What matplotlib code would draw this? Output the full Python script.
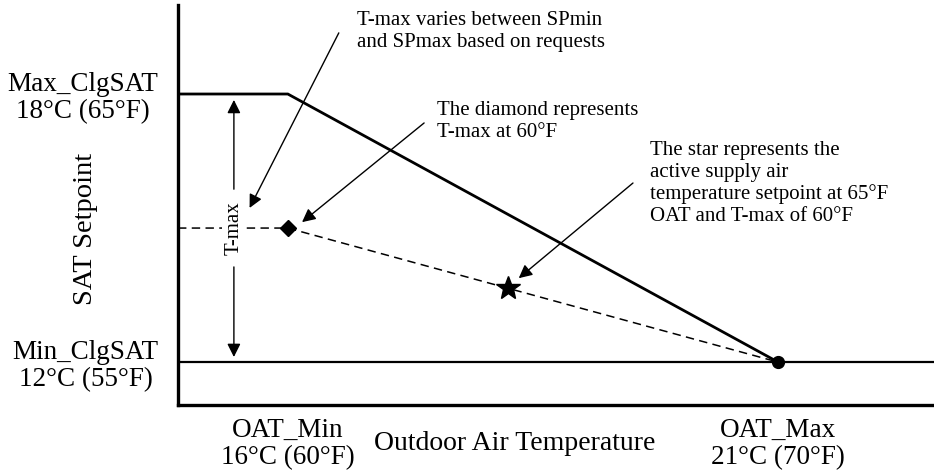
import matplotlib
matplotlib.use("Agg")
import matplotlib.pyplot as plt

plt.rcParams['font.family'] = ['Liberation Serif', 'DejaVu Serif']

# ---- data (°F) ----
oat_ticks = [60, 70]
oat_tick_labels = ["OAT_Min\n16°C (60°F)", "OAT_Max\n21°C (70°F)"]
sat_ticks = [55, 65]
sat_tick_labels = ["Min_ClgSAT\n12°C (55°F)", "Max_ClgSAT\n18°C (65°F)"]

x_lim = [57.76, 73.18]
y_lim = [53.40, 68.32]

max_line_x = [x_lim[0], 60, 70]
max_line_y = [65, 65, 55]
tmax_line_x = [x_lim[0], 60, 70]
tmax_line_y = [60, 60, 55]
sat_min = 55

diamond_pt = (60, 60)
end_pt = (70, 55)
star_pt = (64.5, 57.75)

tmax_arrow_x = 58.9
tmax_arrow_top = (64.78, 61.45)   # tip, gap start
tmax_arrow_bot = (55.19, 58.55)

ann1_text = "T-max varies between SPmin\nand SPmax based on requests"
ann1_xy, ann1_from, ann1_txt = (59.22, 60.75), (61.04, 67.28), (61.41, 67.34)
ann2_text = "The diamond represents\nT-max at 60°F"
ann2_xy, ann2_from, ann2_txt = (60.29, 60.22), (62.78, 63.92), (63.04, 63.97)
ann3_text = ("The star represents the\nactive supply air\n"
             "temperature setpoint at 65°F\nOAT and T-max of 60°F")
ann3_xy, ann3_from, ann3_txt = (64.71, 58.13), (67.04, 61.68), (67.39, 61.66)

# ---- figure ----
fig = plt.figure(figsize=(9.34, 4.73), dpi=100)
ax = fig.add_axes([178/934, 68/473, 1 - 178/934, 400/473])
ax.set_xlim(*x_lim)
ax.set_ylim(*y_lim)

for s in ['top', 'right']:
    ax.spines[s].set_visible(False)
for s in ['left', 'bottom']:
    ax.spines[s].set_linewidth(2.4)

ax.plot(max_line_x, max_line_y, color='black', lw=2.0, solid_joinstyle='miter')
ax.axhline(sat_min, color='black', lw=1.6)
ax.plot(tmax_line_x, tmax_line_y, color='black', lw=1.1, linestyle=(0, (5.5, 3.5)))

ax.plot(*diamond_pt, marker='D', color='black', ms=8.5, zorder=5)
ax.plot(*end_pt, marker='o', color='black', ms=8.5, zorder=5)
ax.plot(*star_pt, marker='*', color='black', ms=18, zorder=5)

# T-max double arrow
arrow_kw = dict(arrowstyle='-|>', color='black', lw=1.0, mutation_scale=20,
                shrinkA=0, shrinkB=0)
ax.annotate("", xy=(tmax_arrow_x, tmax_arrow_top[0]),
            xytext=(tmax_arrow_x, tmax_arrow_top[1]), arrowprops=arrow_kw)
ax.annotate("", xy=(tmax_arrow_x, tmax_arrow_bot[0]),
            xytext=(tmax_arrow_x, tmax_arrow_bot[1]), arrowprops=arrow_kw)
ax.text(tmax_arrow_x, 60, "T-max", rotation=90, ha='center', va='center',
        fontsize=15, zorder=6,
        bbox=dict(facecolor='white', edgecolor='none', pad=1.5))

# annotations
for txt, xy, frm, tpos in [(ann1_text, ann1_xy, ann1_from, ann1_txt),
                           (ann2_text, ann2_xy, ann2_from, ann2_txt),
                           (ann3_text, ann3_xy, ann3_from, ann3_txt)]:
    ax.annotate("", xy=xy, xytext=frm, arrowprops=arrow_kw)
    ax.text(tpos[0], tpos[1], txt, ha='left', va='center', fontsize=15,
            linespacing=1.2)

# ticks
ax.set_xticks(oat_ticks)
ax.set_xticklabels(oat_tick_labels, fontsize=19.5, linespacing=1.15)
ax.set_yticks(sat_ticks)
ax.set_yticklabels(sat_tick_labels, fontsize=19.5, linespacing=1.1,
                   multialignment='center')
ax.tick_params(axis='x', length=0, pad=9)
ax.tick_params(axis='y', length=0, pad=14)

ax.set_xlabel("Outdoor Air Temperature", fontsize=20)
ax.xaxis.set_label_coords((515 - 178) / 756, (405 - 443) / 400)
ax.xaxis.label.set_va('center')
ax.set_ylabel("SAT Setpoint", fontsize=20.5)
ax.yaxis.set_label_coords((85 - 178) / 756, (405 - 229) / 400)
ax.yaxis.label.set_va('center')

fig.savefig("out.png", dpi=100, facecolor='white')
